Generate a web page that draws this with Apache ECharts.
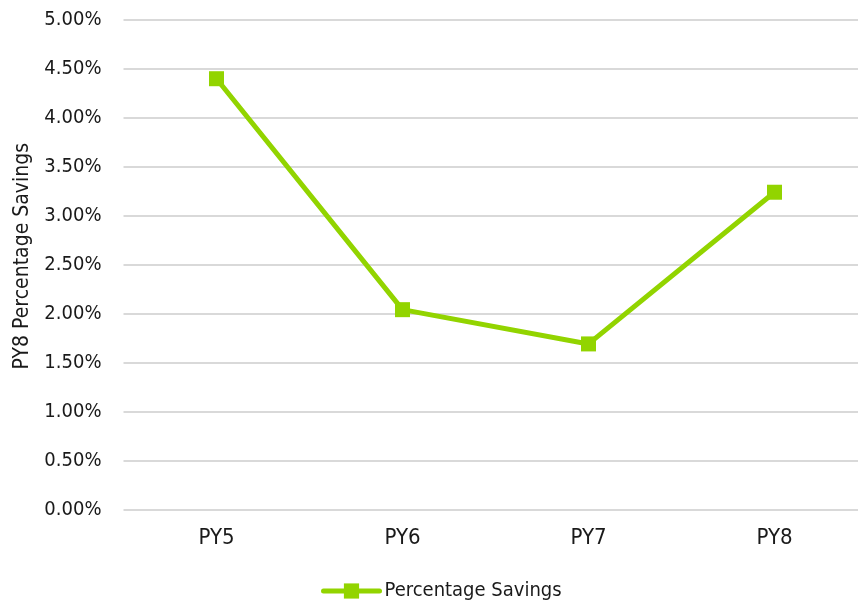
<!DOCTYPE html>
<html><head><meta charset="utf-8">
<script src="https://cdn.jsdelivr.net/npm/echarts@6/dist/echarts.min.js"></script>
<style>html,body{margin:0;padding:0;background:#fff}#c{width:858px;height:607px}</style>
</head><body><div id="c"></div>
<script>
const categories = ['PY5', 'PY6', 'PY7', 'PY8'];
const savingsPct = [4.40, 2.04, 1.69, 3.24];
const seriesName = 'Percentage Savings';
const yAxisTitle = 'PY8 Percentage Savings';

const FONT = '"Liberation Sans Narrow", "DejaVu Sans Condensed", "Arial Narrow", sans-serif';
const GREEN = '#92D400';
const TXT = '#1a1a1a';
const chart = echarts.init(document.getElementById('c'));
chart.setOption({
  animation: false,
  textStyle: { fontFamily: FONT },
  grid: { left: 123.5, right: -9.5, top: 20, bottom: 97.7, containLabel: false, outerBoundsMode: 'none' },
  legend: {
    top: 576, left: 316,
    itemWidth: 56, itemHeight: 19, itemGap: 10,
    lineStyle: { width: 5, cap: 'round', color: GREEN },
    itemStyle: { color: GREEN },
    textStyle: { fontFamily: FONT, fontSize: 20, color: TXT },
    data: [{ name: seriesName }]
  },
  xAxis: {
    type: 'category', data: categories,
    axisLine: { show: false }, axisTick: { show: false },
    axisLabel: { fontFamily: FONT, fontSize: 22, color: TXT, margin: 18 }
  },
  yAxis: {
    type: 'value', min: 0, max: 5, interval: 0.5,
    name: yAxisTitle, nameLocation: 'middle', nameGap: 78,
    nameTextStyle: { fontFamily: FONT, fontSize: 21, color: TXT, padding: [0, 0, 0, 17] },
    axisLine: { show: false }, axisTick: { show: false },
    axisLabel: { fontFamily: FONT, fontSize: 20, color: TXT, margin: 22,
      formatter: v => v.toFixed(2) + '%' },
    splitLine: { lineStyle: { color: '#d9d9d9', width: 2 } }
  },
  series: [{
    name: seriesName, type: 'line', data: savingsPct,
    symbol: 'rect', symbolSize: 15,
    lineStyle: { color: GREEN, width: 5 },
    itemStyle: { color: GREEN }
  }]
});
</script></body></html>
